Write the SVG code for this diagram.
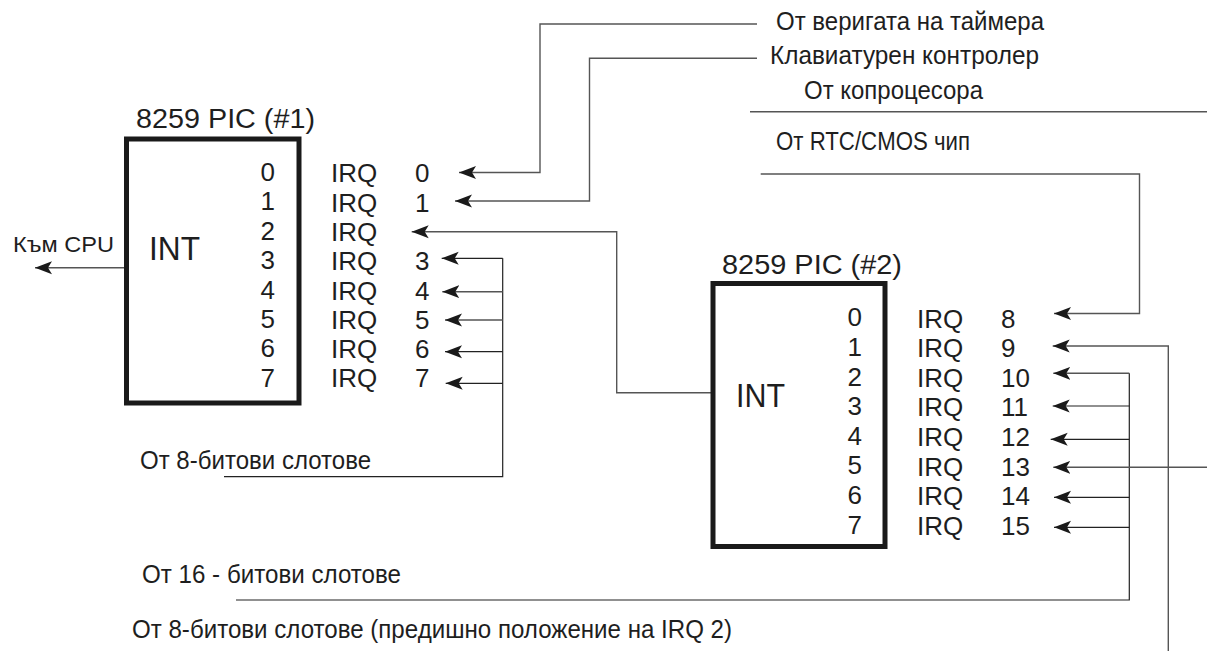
<svg xmlns="http://www.w3.org/2000/svg" width="1207" height="651" viewBox="0 0 1207 651">
<defs>
<marker id="ah" markerUnits="userSpaceOnUse" markerWidth="18" markerHeight="14" refX="17" refY="7" orient="auto">
<path d="M17,7 L0,0.5 L4,7 L0,13.5 Z" fill="#1a1a1a"/>
</marker>
<style>
.t{font-family:"Liberation Sans",Arial,sans-serif;fill:#1e1e1e}
.lbl{font-size:25px}
.ttl{font-size:27px}
.pin{font-size:26px}
.int{font-size:33px}
.ln{fill:none;stroke:#555;stroke-width:1.4}
.lk{fill:none;stroke:#222;stroke-width:1.2}
.arr{marker-end:url(#ah)}
.box{fill:#fff;stroke:#1a1a1a;stroke-width:5}
</style>
</defs>
<rect width="1207" height="651" fill="#fff"/>

<g id="connectors">
<path class="ln arr" d="M757,24 H540 V172.5 H459"/>
<path class="ln arr" d="M757,58.3 H589.5 V201 H455"/>
<path class="ln" d="M750,111.7 H1207"/>
<path class="ln arr" d="M760.7,174 H1139.5 V313.5 H1054"/>
<path class="ln arr" d="M124,267.7 H35"/>
<path class="ln arr" d="M711,392.7 H616.7 V231.7 H411.7"/>
<path class="lk" d="M224,476.7 H502.7 V258.3"/>
<path class="lk arr" d="M502.7,258.3 H441.7"/>
<path class="ln arr" d="M502.7,291.7 H442.3"/>
<path class="ln arr" d="M502.7,320 H445"/>
<path class="lk arr" d="M502.7,351.7 H445"/>
<path class="lk arr" d="M502.7,383.3 H445.7"/>
<path class="lk" d="M236,600 H1129.3 V373.3"/>
<path class="ln arr" d="M1129.3,373.3 H1053.3"/>
<path class="lk arr" d="M1129.3,406 H1052.7"/>
<path class="lk arr" d="M1129.3,439.3 H1050.7"/>
<path class="lk arr" d="M1129.3,497.3 H1054"/>
<path class="lk arr" d="M1129.3,527.3 H1054"/>
<path class="ln arr" d="M1207,467.3 H1053.3"/>
<path class="ln arr" d="M1168.3,651 V346 H1052.7"/>
</g>

<g id="pic1">
<text class="t ttl" x="136" y="128" textLength="179" lengthAdjust="spacingAndGlyphs">8259 PIC (#1)</text>
<rect class="box" x="126.5" y="139" width="172.5" height="264"/>
<text class="t int" x="149" y="260" textLength="51" lengthAdjust="spacingAndGlyphs">INT</text>
<g class="t pin" text-anchor="end">
<text x="275" y="181">0</text>
<text x="275" y="210.4">1</text>
<text x="275" y="239.8">2</text>
<text x="275" y="269.1">3</text>
<text x="275" y="298.5">4</text>
<text x="275" y="327.8">5</text>
<text x="275" y="357.2">6</text>
<text x="275" y="386.5">7</text>
</g>
</g>

<g id="irq-pic1">
<g class="t pin">
<text x="331" y="182.3">IRQ</text><text x="415" y="182.3">0</text>
<text x="331" y="211.6">IRQ</text><text x="415" y="211.6">1</text>
<text x="331" y="240.9">IRQ</text>
<text x="331" y="270.2">IRQ</text><text x="415" y="270.2">3</text>
<text x="331" y="299.5">IRQ</text><text x="415" y="299.5">4</text>
<text x="331" y="328.8">IRQ</text><text x="415" y="328.8">5</text>
<text x="331" y="358.1">IRQ</text><text x="415" y="358.1">6</text>
<text x="331" y="387.4">IRQ</text><text x="415" y="387.4">7</text>
</g>
</g>

<g id="pic2">
<text class="t ttl" x="722" y="274.3" textLength="180" lengthAdjust="spacingAndGlyphs">8259 PIC (#2)</text>
<rect class="box" x="713" y="283.5" width="172" height="263"/>
<text class="t int" x="736" y="406.7" textLength="49" lengthAdjust="spacingAndGlyphs">INT</text>
<g class="t pin" text-anchor="end">
<text x="862" y="326.3">0</text>
<text x="862" y="355.9">1</text>
<text x="862" y="385.5">2</text>
<text x="862" y="415.1">3</text>
<text x="862" y="444.7">4</text>
<text x="862" y="474.3">5</text>
<text x="862" y="503.9">6</text>
<text x="862" y="533.5">7</text>
</g>
</g>

<g id="irq-pic2">
<g class="t pin">
<text x="917" y="327.6">IRQ</text><text x="1001" y="327.6">8</text>
<text x="917" y="357.2">IRQ</text><text x="1001" y="357.2">9</text>
<text x="917" y="386.8">IRQ</text><text x="1001" y="386.8">10</text>
<text x="917" y="416.4">IRQ</text><text x="1001" y="416.4">11</text>
<text x="917" y="446">IRQ</text><text x="1001" y="446">12</text>
<text x="917" y="475.6">IRQ</text><text x="1001" y="475.6">13</text>
<text x="917" y="505.2">IRQ</text><text x="1001" y="505.2">14</text>
<text x="917" y="534.8">IRQ</text><text x="1001" y="534.8">15</text>
</g>
</g>

<g id="cpu">
<text class="t" style="font-size:22px" x="13" y="252.3" textLength="101" lengthAdjust="spacingAndGlyphs">Към CPU</text>
</g>
<g id="timer"><text class="t lbl" x="776" y="30" textLength="268" lengthAdjust="spacingAndGlyphs">От веригата на таймера</text></g>
<g id="keyboard"><text class="t lbl" x="770" y="64" textLength="269" lengthAdjust="spacingAndGlyphs">Клавиатурен контролер</text></g>
<g id="coproc"><text class="t lbl" x="804" y="99" textLength="179" lengthAdjust="spacingAndGlyphs">От копроцесора</text></g>
<g id="rtc"><text class="t lbl" x="776" y="150" textLength="194" lengthAdjust="spacingAndGlyphs">От RTC/CMOS чип</text></g>
<g id="slots8"><text class="t lbl" x="140" y="469" textLength="231" lengthAdjust="spacingAndGlyphs">От 8-битови слотове</text></g>
<g id="slots16"><text class="t lbl" x="142" y="582.5" textLength="259" lengthAdjust="spacingAndGlyphs">От 16 - битови слотове</text></g>
<g id="slots8old"><text class="t lbl" x="132" y="638" textLength="600" lengthAdjust="spacingAndGlyphs">От 8-битови слотове (предишно положение на IRQ 2)</text></g>
</svg>
